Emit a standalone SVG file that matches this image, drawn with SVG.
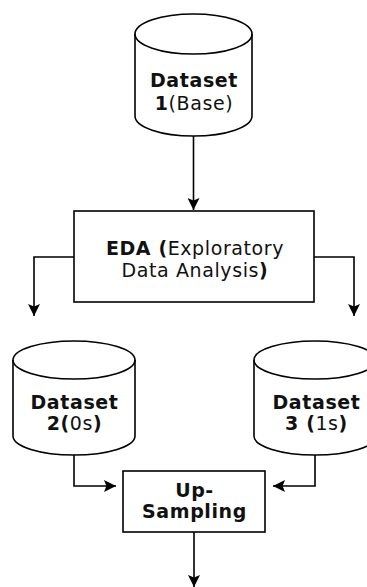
<svg xmlns="http://www.w3.org/2000/svg" width="367" height="587" viewBox="0 0 367 587">
<defs>
<marker id="ah" viewBox="0 0 10 10" refX="10" refY="5" markerWidth="7.5" markerHeight="7.5" orient="auto" markerUnits="strokeWidth">
<path d="M0,0 L10,5 L0,10 L2,5 z" fill="#000"/>
</marker>
</defs>
<style>
.shape{fill:#fff;stroke:#000;stroke-width:1.6}
.t{font-family:"DejaVu Sans",Verdana,sans-serif;font-size:19px;letter-spacing:0.6px;text-anchor:middle;fill:#111}
.b{font-weight:bold}
.n{font-weight:normal}
.conn path{fill:none;stroke:#000;stroke-width:1.6;marker-end:url(#ah)}
</style>
<rect width="367" height="587" fill="#fff"/>
<g class="conn">
<path d="M193.5,136 V210"/>
<path d="M74,257 H34 V316"/>
<path d="M314,257 H354 V316"/>
<path d="M74,455 V486 H116"/>
<path d="M315,455 V486 H273"/>
<path d="M194,532 V587"/>
</g>
<g id="dataset1">
<path class="shape" d="M135,34 A58.5,20 0 0 1 252,34 V116 A58.5,20 0 0 1 135,116 Z"/>
<path class="shape" style="fill:none" d="M135,34 A58.5,20 0 0 0 252,34"/>
<text class="t b" x="194" y="87">Dataset</text>
<text class="t" x="194" y="110"><tspan class="b">1</tspan><tspan class="n">(Base)</tspan></text>
</g>
<g id="eda">
<rect class="shape" x="74" y="211" width="240" height="91"/>
<text class="t" x="195" y="255"><tspan class="b">EDA (</tspan><tspan class="n">Exploratory</tspan></text>
<text class="t" x="195" y="277"><tspan class="n">Data Analysis</tspan><tspan class="b">)</tspan></text>
</g>
<g id="dataset2">
<path class="shape" d="M13,360 A61,19 0 0 1 135,360 V436 A61,19 0 0 1 13,436 Z"/>
<path class="shape" style="fill:none" d="M13,360 A61,19 0 0 0 135,360"/>
<text class="t b" x="74.5" y="409">Dataset</text>
<text class="t" x="74.5" y="430"><tspan class="b">2(</tspan><tspan class="n">0s</tspan><tspan class="b">)</tspan></text>
</g>
<g id="dataset3">
<path class="shape" d="M254,360 A61,19 0 0 1 376,360 V436 A61,19 0 0 1 254,436 Z"/>
<path class="shape" style="fill:none" d="M254,360 A61,19 0 0 0 376,360"/>
<text class="t b" x="316.5" y="409">Dataset</text>
<text class="t" x="316.5" y="430"><tspan class="b">3 (</tspan><tspan class="n">1s</tspan><tspan class="b">)</tspan></text>
</g>
<g id="upsampling">
<rect class="shape" x="123" y="471" width="142" height="61"/>
<text class="t b" x="194.5" y="497">Up-</text>
<text class="t b" x="194.5" y="518">Sampling</text>
</g>
</svg>
